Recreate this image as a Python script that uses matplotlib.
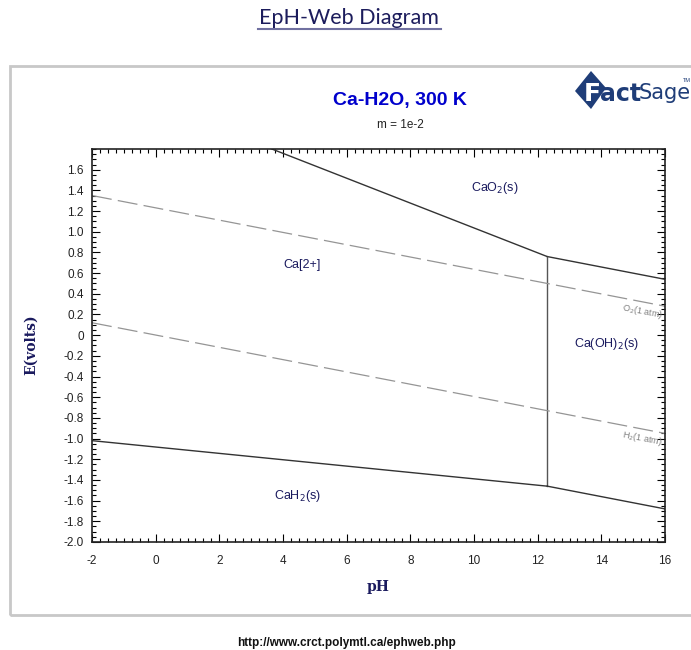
import numpy as np
import matplotlib.pyplot as plt
from matplotlib.patches import Rectangle, Polygon
from matplotlib.lines import Line2D
from matplotlib.ticker import MultipleLocator

plt.rcParams["font.family"] = ["Liberation Sans", "DejaVu Sans"]

# boundary lines (pH, E volts)
cao2_ca_ph = [3.65, 12.3]
cao2_ca_e = [1.80, 0.76]
cao2_oh_ph = [12.3, 16.0]
cao2_oh_e = [0.76, 0.54]
ca_oh_ph = [12.3, 12.3]
ca_oh_e = [0.76, -1.46]
cah2_ca_ph = [-2.0, 12.3]
cah2_ca_e = [-1.02, -1.46]
cah2_oh_ph = [12.3, 16.0]
cah2_oh_e = [-1.46, -1.68]

# water stability lines
o2_ph = [-2.0, 16.0]
o2_e = [1.35, 0.28]
h2_ph = [-2.0, 16.0]
h2_e = [0.12, -0.95]

regions = ["CaO$_2$(s)", "Ca[2+]", "Ca(OH)$_2$(s)", "CaH$_2$(s)"]
region_ph = [10.65, 4.6, 14.15, 4.45]
region_e = [1.42, 0.68, -0.09, -1.56]

W, H = 691, 650
fig = plt.figure(figsize=(W / 100, H / 100), dpi=100)
fig.patch.set_facecolor("white")

def fx(px):
    return px / W

def fy(py):
    return 1 - py / H

# panel frame
fig.add_artist(Rectangle((fx(10), fy(615)), fx(700) - fx(10), fy(66) - fy(615),
                         transform=fig.transFigure, fill=False,
                         edgecolor="#c8c8c8", linewidth=2))

# header / footer
fig.text(fx(349), fy(18), "EpH-Web Diagram", ha="center", va="center",
         fontsize=15.5, color="#1c1c5c", family="Lato")
fig.add_artist(Line2D([fx(258), fx(441)], [fy(29), fy(29)],
                      transform=fig.transFigure, color="#7070a0", lw=1.5))
fig.text(fx(346), fy(643), "http://www.crct.polymtl.ca/ephweb.php", ha="center",
         va="center", fontsize=8.5, fontweight="bold", color="#111111")

fig.text(fx(400), fy(100), "Ca-H2O, 300 K", ha="center", va="center",
         fontsize=14, fontweight="bold", color="#0000cc")
fig.text(fx(400), fy(125), "m = 1e-2", ha="center", va="center",
         fontsize=8.5, color="#222222")

# FactSage logo
logo = "#1f3d78"
fig.add_artist(Polygon([[fx(591), fy(71)], [fx(606), fy(88)], [fx(591), fy(109)],
                        [fx(575), fy(91)]], closed=True, transform=fig.transFigure,
                       facecolor=logo, edgecolor="none"))
fig.text(fx(584), fy(94), "F", ha="left", va="center", fontsize=18,
         fontweight="bold", color="white", family="DejaVu Sans")
fig.text(fx(600), fy(94), "act", ha="left", va="center", fontsize=17,
         fontweight="bold", color=logo, family="DejaVu Sans")
fig.text(fx(639), fy(93), "Sage", ha="left", va="center", fontsize=15,
         color=logo, family="Liberation Sans Narrow")
fig.text(fx(683), fy(80), "TM", ha="left", va="center", fontsize=4, color=logo)

ax = fig.add_axes([fx(92), fy(542), fx(665) - fx(92), fy(149) - fy(542)])
ax.set_xlim(-2, 16)
ax.set_ylim(-2.0, 1.8)

solid = dict(color="#333333", lw=1.0)
ax.plot(cao2_ca_ph, cao2_ca_e, **solid)
ax.plot(cao2_oh_ph, cao2_oh_e, **solid)
ax.plot(ca_oh_ph, ca_oh_e, color="#555555", lw=1.0)
ax.plot(cah2_ca_ph, cah2_ca_e, **solid)
ax.plot(cah2_oh_ph, cah2_oh_e, **solid)

dash = dict(color="#959595", lw=0.9, linestyle=(0, (16, 5)))
ax.plot(o2_ph, o2_e, **dash)
ax.plot(h2_ph, h2_e, **dash)

ax.text(15.3, 0.23, "O$_2$(1 atm)", fontsize=6.5, color="#808080", rotation=-11,
        ha="center", va="center")
ax.text(15.3, -1.0, "H$_2$(1 atm)", fontsize=6.5, color="#808080", rotation=-11,
        ha="center", va="center")

for name, x, y in zip(regions, region_ph, region_e):
    ax.text(x, y, name, fontsize=9, color="#1a1a5e", ha="center", va="center")

ax.xaxis.set_major_locator(MultipleLocator(2))
ax.xaxis.set_minor_locator(MultipleLocator(0.25))
ax.yaxis.set_major_locator(MultipleLocator(0.2))
ax.yaxis.set_minor_locator(MultipleLocator(0.05))
ax.tick_params(which="both", direction="in", top=True, right=True,
               labelsize=8.5, labelcolor="#222222", width=0.8)
ax.tick_params(which="major", length=6)
ax.tick_params(which="minor", length=3)
ax.tick_params(axis="x", pad=9)
ax.tick_params(axis="y", pad=6)

yt = np.round(np.arange(-2.0, 1.61, 0.2), 1)
ax.set_yticks(yt)
ax.set_yticklabels(["0" if abs(v) < 1e-9 else f"{v:.1f}" for v in yt])
xt = np.arange(-2, 17, 2)
ax.set_xticks(xt)
ax.set_xticklabels([str(v) for v in xt])

for s in ax.spines.values():
    s.set_linewidth(1.2)
    s.set_color("#222222")

fig.text(fx(31), fy(345), "E(volts)", rotation=90, ha="center", va="center",
         fontsize=10, fontweight="bold", color="#1a1a5e", family="DejaVu Serif")
fig.text(fx(378), fy(587), "pH", ha="center", va="center",
         fontsize=10, fontweight="bold", color="#1a1a5e", family="DejaVu Serif")

fig.savefig("out.png", dpi=100)
